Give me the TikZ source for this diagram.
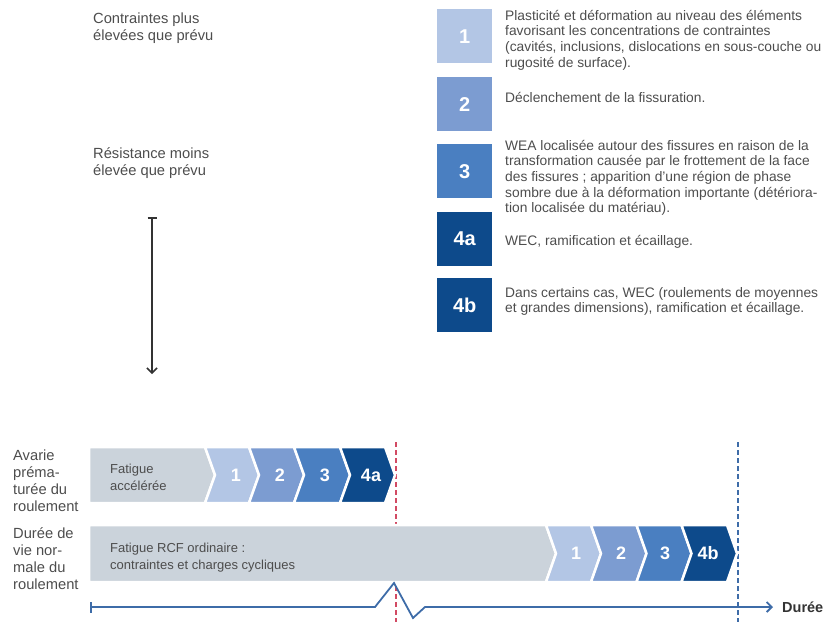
\documentclass[tikz,border=0pt]{standalone}
\usepackage{fontspec}
\setmainfont{Liberation Sans}
\usetikzlibrary{arrows.meta}
\definecolor{cgray}{HTML}{CBD3DB}
\definecolor{cone}{HTML}{B3C6E5}
\definecolor{ctwo}{HTML}{7C9CD1}
\definecolor{cthree}{HTML}{4A7FC1}
\definecolor{cfour}{HTML}{0D4A8B}
\definecolor{txt}{HTML}{4D4D4D}
\definecolor{tline}{HTML}{3E6CA8}
\definecolor{redd}{HTML}{D24A63}
\newcommand\myfs[2]{\fontsize{#1}{#2}\selectfont}
\begin{document}
\begin{tikzpicture}[x=1pt,y=-1pt,
  numbox/.style={fill=#1, minimum width=55pt, minimum height=54pt, inner sep=0pt,
    text=white, font=\myfs{20}{20}\bfseries, anchor=north west},
  desc/.style={anchor=base west, inner sep=0pt, text=txt, font=\myfs{13.8}{15.7}},
  lbl/.style={anchor=base west, inner sep=0pt, text=txt, font=\myfs{14.7}{17.3}},
  chevtxt/.style={anchor=base west, inner sep=0pt, text=txt, font=\myfs{13}{17}},
  chev/.style={draw=white, line width=2.5pt, line join=miter},
  chnum/.style={text=white, inner sep=0pt, font=\myfs{18}{18}\bfseries},
  tl/.style={draw=tline, line width=1.8pt},
  dline/.style={line width=1.8pt, dash pattern=on 5pt off 3pt}
]
\useasboundingbox (0,0) rectangle (827,622);

% top-left labels
\node[lbl] (hi) at (93,23) {\parbox[t]{160pt}{Contraintes plus\\élevées que prévu}};
\node[lbl] (lo) at (93,158) {\parbox[t]{160pt}{Résistance moins\\élevée que prévu}};
\coordinate (va) at (152,217);
\coordinate (vb) at (152,374);
\draw[line width=1.5pt, draw=black!80, {Bar[width=9pt]}-{Straight Barb[length=5pt,width=10pt]}] (va) -- (vb);

% legend boxes
\node[numbox=cone] (b1) at (437,9) {1};
\node[numbox=ctwo] (b2) at (437,77) {2};
\node[numbox=cthree] (b3) at (437,144) {3};
\node[numbox=cfour] (b4a) at (437,212) {4a};
\node[numbox=cfour] (b4b) at (437,278) {4b};

\node[desc] (d1) at (505,20) {\parbox[t]{400pt}{Plasticité et déformation au niveau des éléments\\favorisant les concentrations de contraintes\\(cavités, inclusions, dislocations en sous-couche ou\\rugosité de surface).}};
\node[desc] (d2) at (505,102) {\parbox[t]{400pt}{Déclenchement de la fissuration.}};
\node[desc] (d3) at (505,150) {\parbox[t]{400pt}{WEA localisée autour des fissures en raison de la\\transformation causée par le frottement de la face\\des fissures ; apparition d’une région de phase\\sombre due à la déformation importante (détériora-\\tion localisée du matériau).}};
\node[desc] (d4a) at (505,245) {\parbox[t]{400pt}{WEC, ramification et écaillage.}};
\node[desc] (d4b) at (505,297) {\parbox[t]{400pt}{Dans certains cas, WEC (roulements de moyennes\\et grandes dimensions), ramification et écaillage.}};

% row labels
\node[lbl] (r1lbl) at (13,460) {\parbox[t]{80pt}{Avarie\\préma-\\turée du\\roulement}};
\node[lbl] (r2lbl) at (13,538) {\parbox[t]{80pt}{Durée de\\vie nor-\\male du\\roulement}};

% dashed lines
\coordinate (rtop) at (396,442);
\coordinate (rbot) at (396,622);
\coordinate (btop) at (738,442);
\coordinate (bbot) at (738,622);
\draw[dline, draw=redd] (rtop) -- (rbot);
\draw[dline, draw=tline] (btop) -- (bbot);

% row 1
\filldraw[chev, fill=cgray] (89,447) -- (205,447) -- (215,475) -- (205,503) -- (89,503) -- cycle;
\filldraw[chev, fill=cone] (205,447) -- (249,447) -- (259,475) -- (249,503) -- (205,503) -- (215,475) -- cycle;
\filldraw[chev, fill=ctwo] (249,447) -- (294,447) -- (304,475) -- (294,503) -- (249,503) -- (259,475) -- cycle;
\filldraw[chev, fill=cthree] (294,447) -- (340,447) -- (350,475) -- (340,503) -- (294,503) -- (304,475) -- cycle;
\filldraw[chev, fill=cfour] (340,447) -- (385,447) -- (395,475) -- (385,503) -- (340,503) -- (350,475) -- cycle;
\node[chevtxt] (fa) at (110,473) {\parbox[t]{100pt}{Fatigue\\accélérée}};
\node[chnum] (r1c1) at (236,475) {1};
\node[chnum] (r1c2) at (280,475) {2};
\node[chnum] (r1c3) at (325,475) {3};
\node[chnum] (r1c4) at (371,475) {4a};

% row 2
\filldraw[chev, fill=cgray] (89,525) -- (546,525) -- (556,553.5) -- (546,582) -- (89,582) -- cycle;
\filldraw[chev, fill=cone] (546,525) -- (591,525) -- (601,553.5) -- (591,582) -- (546,582) -- (556,553.5) -- cycle;
\filldraw[chev, fill=ctwo] (591,525) -- (636.5,525) -- (646.5,553.5) -- (636.5,582) -- (591,582) -- (601,553.5) -- cycle;
\filldraw[chev, fill=cthree] (636.5,525) -- (681.5,525) -- (691.5,553.5) -- (681.5,582) -- (636.5,582) -- (646.5,553.5) -- cycle;
\filldraw[chev, fill=cfour] (681.5,525) -- (727,525) -- (737,553.5) -- (727,582) -- (681.5,582) -- (691.5,553.5) -- cycle;
\node[chevtxt] (fr) at (110,552) {\parbox[t]{300pt}{Fatigue RCF ordinaire :\\contraintes et charges cycliques}};
\node[chnum] (r2c1) at (576,553.5) {1};
\node[chnum] (r2c2) at (621,553.5) {2};
\node[chnum] (r2c3) at (665,553.5) {3};
\node[chnum] (r2c4) at (708,553.5) {4b};

% timeline
\coordinate (t0) at (90,607);
\coordinate (t1) at (375,607);
\coordinate (t2) at (394,583);
\coordinate (t3) at (413,618);
\coordinate (t4) at (425,607);
\coordinate (t5) at (773,607);
\draw[tl, line join=miter, {Bar[width=11pt]}-{Straight Barb[length=5pt,width=10pt]}] (t0) -- (t1) -- (t2) -- (t3) -- (t4) -- (t5);
\node[anchor=west, inner sep=0pt, text=black!80, font=\myfs{14.5}{17}\bfseries] (duree) at (782,607) {Durée};
\end{tikzpicture}
\end{document}
